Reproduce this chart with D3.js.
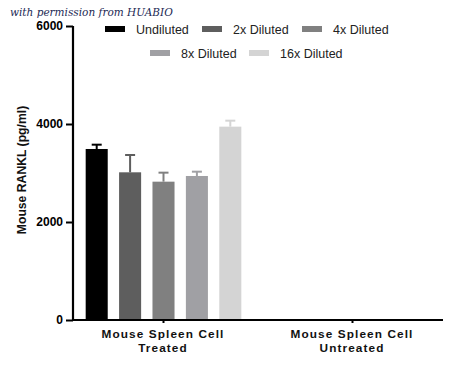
<!DOCTYPE html>
<html><head><meta charset="utf-8">
<script src="https://cdn.jsdelivr.net/npm/d3@7"></script>
<style>body{margin:0;background:#fff}</style>
</head><body>
<svg id="c" width="450" height="369"></svg>
<script>
const categories = ["Mouse Spleen Cell|Treated", "Mouse Spleen Cell|Untreated"];
const series = ["Undiluted", "2x Diluted", "4x Diluted", "8x Diluted", "16x Diluted"];
const colors = ["#000000", "#5e5e5e", "#808080", "#a0a0a4", "#d4d4d4"];
const treatedMeans = [3490, 3014, 2823, 2939, 3946];
const treatedErrors = [88, 353, 184, 88, 122];
const untreatedMeans = [0, 0, 0, 0, 0];
const untreatedErrors = [0, 0, 0, 0, 0];
const yTicks = [0, 2000, 4000, 6000];

const data = [
  {cat: categories[0], means: treatedMeans, errs: treatedErrors},
  {cat: categories[1], means: untreatedMeans, errs: untreatedErrors}
];

const svg = d3.select("#c");
const font = "Arial, 'Liberation Sans', sans-serif";

const y = d3.scaleLinear().domain([0, 6000]).range([320, 26]);
const x = d3.scalePoint().domain(categories).range([163, 352]);
const inner = d3.scaleBand().domain(series).range([-83, 84]).paddingInner(0.34).paddingOuter(0.17);

// bars
data.forEach(d => {
  const g = svg.append("g").attr("transform", `translate(${x(d.cat)},0)`);
  series.forEach((s, i) => {
    if (d.means[i] <= 0) return;
    const bx = inner(s), bw = inner.bandwidth();
    g.append("rect").attr("x", bx).attr("y", y(d.means[i]))
      .attr("width", bw).attr("height", y(0) - y(d.means[i])).attr("fill", colors[i]);
    const cx = bx + bw / 2, top = y(d.means[i] + d.errs[i]);
    g.append("line").attr("x1", cx).attr("x2", cx).attr("y1", y(d.means[i])).attr("y2", top)
      .attr("stroke", colors[i]).attr("stroke-width", 2);
    g.append("line").attr("x1", cx - 5).attr("x2", cx + 5).attr("y1", top).attr("y2", top)
      .attr("stroke", colors[i]).attr("stroke-width", 2);
  });
});

// y axis
const yAxis = svg.append("g").attr("transform", "translate(73,0)")
  .call(d3.axisLeft(y).tickValues(yTicks).tickSize(7).tickPadding(3).tickFormat(d3.format("d")));
yAxis.select(".domain").attr("stroke-width", 2.2).attr("d", `M0,${y(6000)}V${y(0)}`);
yAxis.selectAll(".tick line").attr("stroke-width", 2);
yAxis.selectAll("text").attr("font-family", font).attr("font-weight", "bold").attr("font-size", 12).attr("fill", "#000");

// x axis
const xAxis = svg.append("g").attr("transform", "translate(0,320)")
  .call(d3.axisBottom(x).tickSize(3).tickFormat(""));
xAxis.select(".domain").attr("stroke-width", 2.2).attr("d", "M72,0H443");
xAxis.selectAll(".tick line").attr("stroke-width", 2);
categories.forEach(c => {
  const parts = c.split("|");
  const t = svg.append("text").attr("x", x(c)).attr("y", 338).attr("text-anchor", "middle")
    .attr("font-family", font).attr("font-weight", "bold").attr("font-size", 11.8)
    .attr("letter-spacing", 1.1).attr("fill", "#111");
  t.append("tspan").attr("x", x(c)).attr("dy", 0).text(parts[0]);
  t.append("tspan").attr("x", x(c)).attr("dy", 14).text(parts[1]);
});

// y label
svg.append("text").attr("transform", "translate(26,170) rotate(-90)").attr("text-anchor", "middle")
  .attr("font-family", font).attr("font-weight", "bold").attr("font-size", 12.2).attr("fill", "#111")
  .text("Mouse RANKL (pg/ml)");

// legend
const legendPos = [[105, 29], [202, 29], [302, 29], [150, 53], [249, 53]];
series.forEach((s, i) => {
  const [lx, ly] = legendPos[i];
  svg.append("rect").attr("x", lx).attr("y", ly - 3).attr("width", 20).attr("height", 6).attr("fill", colors[i]);
  svg.append("text").attr("x", lx + 31).attr("y", ly + 4.5).attr("font-family", font)
    .attr("font-size", 12.5).attr("fill", "#222").text(s);
});

// watermark
svg.append("text").attr("x", 10).attr("y", 16).attr("font-family", "'DejaVu Serif', 'Liberation Serif', serif")
  .attr("font-style", "italic").attr("font-size", 10.5).attr("fill", "#1c2a55")
  .text("with permission from HUABIO");
</script>
</body></html>
